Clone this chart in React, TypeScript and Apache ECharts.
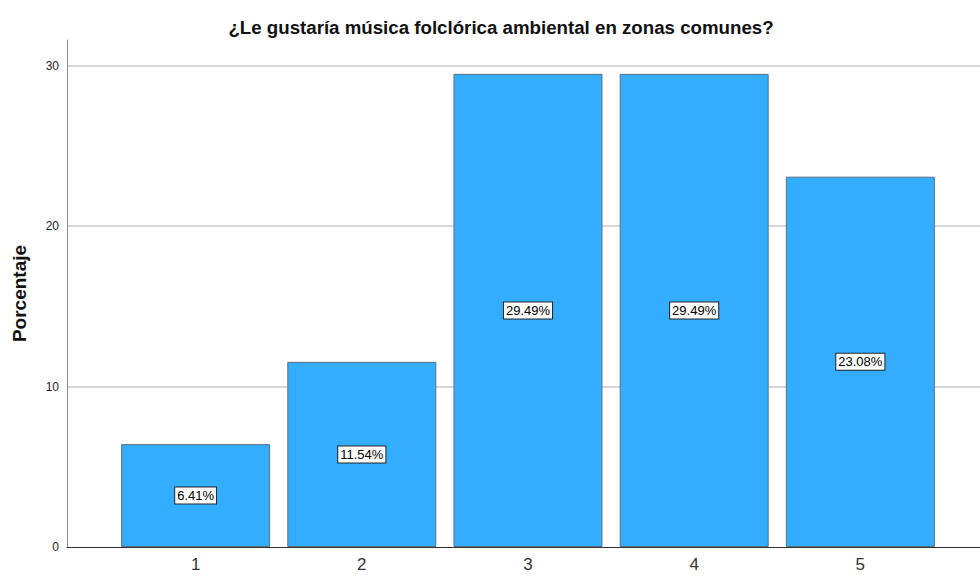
import React, { useEffect, useRef } from "react";
import * as echarts from "echarts";

const categories = [1, 2, 3, 4, 5];
const percentages = [6.41, 11.54, 29.49, 29.49, 23.08];
const yTicks = [0, 10, 20, 30];
const titleText = "¿Le gustaría música folclórica ambiental en zonas comunes?";
const yName = "Porcentaje";

const FONT = "'Liberation Sans', Arial, sans-serif";

export default function App() {
  const ref = useRef<HTMLDivElement>(null);
  useEffect(() => {
    if (!ref.current) return;
    const chart = echarts.init(ref.current, undefined, { renderer: "svg" });
    chart.setOption({
      animation: false,
      backgroundColor: "#ffffff",
      title: {
        text: titleText,
        left: 496,
        top: 13,
        textAlign: "center",
        textStyle: { fontFamily: FONT, fontSize: 18.7, fontWeight: "bold", color: "#111" },
      },
      grid: { left: 67, right: -2, top: 40, bottom: 29, containLabel: false },
      xAxis: {
        type: "value",
        min: 0.226,
        max: 5.72,
        axisLine: { show: true, onZero: false, lineStyle: { color: "#333", width: 1 } },
        axisTick: { show: false },
        splitLine: { show: false },
        axisLabel: {
          customValues: categories,
          fontFamily: FONT,
          fontSize: 17,
          color: "#333",
          margin: 9,
        },
      },
      yAxis: {
        type: "value",
        min: 0,
        max: 31.6,
        interval: 10,
        name: yName,
        nameLocation: "middle",
        nameGap: 38,
        nameTextStyle: { fontFamily: FONT, fontSize: 19, fontWeight: "bold", color: "#111" },
        axisLine: { show: true, lineStyle: { color: "#888", width: 1 } },
        axisTick: { show: false },
        axisLabel: {
          customValues: yTicks,
          fontFamily: FONT,
          fontSize: 12,
          color: "#222",
          margin: 8,
        },
        splitLine: {
          show: true,
          showMaxLine: false,
          showMinLine: false,
          lineStyle: { color: "#c8c8c8", width: 1.5 },
        },
      },
      series: [
        {
          type: "bar",
          data: categories.map((c, i) => [c, percentages[i]]),
          barWidth: 149,
          itemStyle: { color: "#33adff", borderColor: "#5a6f80", borderWidth: 1 },
          label: {
            show: true,
            position: "inside",
            formatter: (p: any) => p.value[1].toFixed(2) + "%",
            fontFamily: FONT,
            fontSize: 13,
            color: "#000",
            backgroundColor: "#fff",
            borderColor: "#222",
            borderWidth: 1,
            padding: [2, 2, 1, 2],
          },
        },
      ],
    });
    return () => chart.dispose();
  }, []);
  return <div ref={ref} style={{ width: 980, height: 576, position: "fixed", left: 0, top: 0 }} />;
}
